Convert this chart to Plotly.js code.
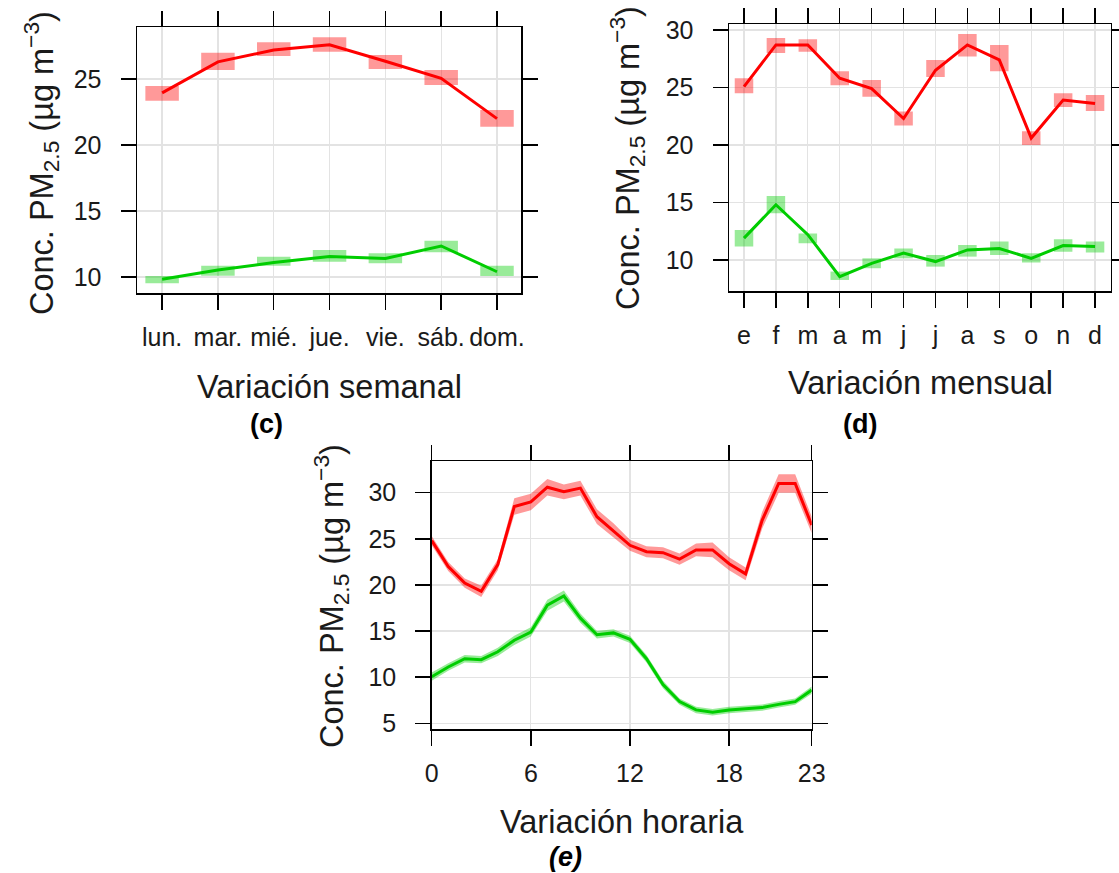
<!DOCTYPE html>
<html>
<head>
<meta charset="utf-8">
<script src="https://cdn.plot.ly/plotly-3.0.1.min.js"></script>
<style>html,body{margin:0;padding:0;background:#fff;}#chart{width:1119px;height:873px;}</style>
</head>
<body>
<div id="chart"></div>
<script>
// ---- Weekly variation (c)
const days = ['lun.', 'mar.', 'mié.', 'jue.', 'vie.', 'sáb.', 'dom.'];
const weekRed = [23.95, 26.3, 27.2, 27.6, 26.35, 25.05, 22.0];
const weekRedLow = [23.36, 25.68, 26.74, 27.07, 25.76, 24.55, 21.39];
const weekRedHigh = [24.47, 26.99, 27.78, 28.16, 26.82, 25.68, 22.65];
const weekGreen = [9.83, 10.53, 11.1, 11.55, 11.4, 12.35, 10.4];
const weekGreenLow = [9.52, 10.1, 10.86, 11.16, 11.04, 11.87, 10.08];
const weekGreenHigh = [10.08, 10.86, 11.54, 12.05, 11.8, 12.75, 10.86];

// ---- Monthly variation (d)
const months = ['e', 'f', 'm', 'a', 'm', 'j', 'j', 'a', 's', 'o', 'n', 'd'];
const monthRed = [25.07, 28.7, 28.7, 25.8, 24.9, 22.3, 26.5, 28.7, 27.4, 20.6, 23.9, 23.6];
const monthRedLow = [24.5, 28.0, 28.1, 25.2, 24.2, 21.7, 25.9, 27.7, 26.4, 20.0, 23.3, 22.95];
const monthRedHigh = [25.8, 29.3, 29.2, 26.4, 25.65, 22.9, 27.4, 29.65, 28.7, 21.2, 24.5, 24.35];
const monthGreen = [11.9, 14.8, 12.2, 8.55, 9.7, 10.6, 9.86, 10.87, 11.0, 10.14, 11.25, 11.16];
const monthGreenLow = [11.16, 14.06, 11.45, 8.26, 9.28, 10.14, 9.42, 10.29, 10.43, 9.77, 10.72, 10.64];
const monthGreenHigh = [12.6, 15.57, 12.3, 8.99, 10.14, 11.0, 10.43, 11.3, 11.6, 10.58, 11.8, 11.6];

// ---- Hourly variation (e)
const hours = [0, 1, 2, 3, 4, 5, 6, 7, 8, 9, 10, 11, 12, 13, 14, 15, 16, 17, 18, 19, 20, 21, 22, 23];
const hourTicks = [0, 6, 12, 18, 23];
const hourRed = [24.8, 22.0, 20.2, 19.3, 22.2, 28.5, 29.0, 30.6, 30.1, 30.5, 27.4, 25.9, 24.3, 23.6, 23.5, 22.8, 23.8, 23.8, 22.3, 21.2, 27.0, 31.0, 31.0, 26.5];
const hourRedLow = [24.3, 21.5, 19.7, 18.7, 21.6, 27.6, 28.1, 29.7, 29.3, 29.7, 26.6, 25.1, 23.7, 23.0, 22.9, 22.2, 23.1, 23.0, 21.6, 20.5, 26.1, 30.0, 30.0, 25.6];
const hourRedHigh = [25.3, 22.5, 20.7, 19.9, 22.8, 29.4, 29.9, 31.5, 30.9, 31.3, 28.2, 26.7, 24.9, 24.2, 24.1, 23.4, 24.5, 24.6, 23.0, 21.9, 27.9, 32.0, 32.0, 27.4];
const hourGreen = [10.05, 11.1, 12.0, 11.9, 12.75, 14.0, 14.9, 17.8, 18.8, 16.4, 14.6, 14.8, 14.1, 12.0, 9.2, 7.35, 6.45, 6.2, 6.45, 6.6, 6.7, 7.05, 7.35, 8.6];
const hourGreenLow = [9.6, 10.7, 11.6, 11.5, 12.3, 13.5, 14.4, 17.2, 18.2, 15.9, 14.2, 14.4, 13.7, 11.6, 8.8, 7.0, 6.1, 5.85, 6.1, 6.25, 6.35, 6.7, 7.0, 8.2];
const hourGreenHigh = [10.5, 11.5, 12.4, 12.3, 13.2, 14.5, 15.4, 18.4, 19.4, 16.9, 15.0, 15.2, 14.5, 12.4, 9.6, 7.7, 6.8, 6.55, 6.8, 6.95, 7.05, 7.4, 7.7, 9.0];

// ---- style
const RED = '#FF0000', GREEN = '#00CD00';
const RED_CI = 'rgba(255,0,0,0.4)', GREEN_CI = 'rgba(0,205,0,0.4)';
const FONT = 'Liberation Sans, Arial, sans-serif';
const W = 1119, H = 873;

const dayX = days.map((_, i) => i + 1);
const monthX = months.map((_, i) => i + 1);
const diff = (hi, lo) => hi.map((v, i) => v - lo[i]);

const data = [];
function ciBars(x, lo, hi, color, xa, ya, width) {
  data.push({type: 'bar', x: x, y: diff(hi, lo), base: lo, width: width,
    marker: {color: color, line: {width: 0}}, xaxis: xa, yaxis: ya, hoverinfo: 'skip', showlegend: false});
}
function band(x, lo, hi, color, xa, ya) {
  data.push({type: 'scatter', mode: 'lines', x: x, y: lo, line: {width: 0, color: color}, xaxis: xa, yaxis: ya, showlegend: false, hoverinfo: 'skip'});
  data.push({type: 'scatter', mode: 'lines', x: x, y: hi, fill: 'tonexty', fillcolor: color, line: {width: 0, color: color}, xaxis: xa, yaxis: ya, showlegend: false, hoverinfo: 'skip'});
}
function line(x, y, color, xa, ya) {
  data.push({type: 'scatter', mode: 'lines', x: x, y: y, line: {width: 3, color: color}, xaxis: xa, yaxis: ya, showlegend: false});
}

ciBars(dayX, weekRedLow, weekRedHigh, RED_CI, 'x', 'y', 0.6);
ciBars(dayX, weekGreenLow, weekGreenHigh, GREEN_CI, 'x', 'y', 0.6);
ciBars(monthX, monthRedLow, monthRedHigh, RED_CI, 'x2', 'y2', 0.58);
ciBars(monthX, monthGreenLow, monthGreenHigh, GREEN_CI, 'x2', 'y2', 0.58);
band(hours, hourRedLow, hourRedHigh, RED_CI, 'x3', 'y3');
band(hours, hourGreenLow, hourGreenHigh, GREEN_CI, 'x3', 'y3');
line(dayX, weekRed, RED, 'x', 'y');
line(dayX, weekGreen, GREEN, 'x', 'y');
line(monthX, monthRed, RED, 'x2', 'y2');
line(monthX, monthGreen, GREEN, 'x2', 'y2');
line(hours, hourRed, RED, 'x3', 'y3');
line(hours, hourGreen, GREEN, 'x3', 'y3');

const px = v => v / W;
const py = v => 1 - v / H;

function axis(extra) {
  return Object.assign({
    showline: true, linecolor: '#000', linewidth: 1.5, mirror: 'ticks',
    ticks: 'outside', ticklen: 15, tickwidth: 1.5, tickcolor: '#000',
    showgrid: true, gridcolor: '#e3e3e3', gridwidth: 1.3, zeroline: false,
    tickfont: {family: FONT, size: 25, color: '#1a1a1a'}, fixedrange: true
  }, extra);
}

const ytitle = 'Conc. PM<sub>2.5</sub> (µg m<sup>−3</sup>)';
const tfont = {family: FONT, size: 32.5, color: '#1a1a1a'};
const lfont = {family: FONT, size: 27, color: '#000'};
function note(text, x, y, font, angle) {
  return {text: text, x: px(x), y: py(y), xref: 'paper', yref: 'paper', xanchor: 'center', yanchor: 'middle',
    showarrow: false, font: font, textangle: angle || 0};
}

const layout = {
  width: W, height: H, margin: {l: 0, r: 0, t: 0, b: 0},
  paper_bgcolor: '#fff', plot_bgcolor: '#fff', barmode: 'overlay', showlegend: false,
  xaxis: axis({domain: [px(137), px(521)], range: [0.55, 7.43], tickvals: dayX, ticktext: days, anchor: 'y', ticklabelstandoff: 6}),
  yaxis: axis({domain: [py(293), py(27)], range: [8.79, 28.94], tickvals: [10, 15, 20, 25], anchor: 'x', ticklabelstandoff: 14}),
  xaxis2: axis({domain: [px(729), px(1110.7)], range: [0.53, 12.49], tickvals: monthX, ticktext: months, anchor: 'y2', ticklabelstandoff: 6}),
  yaxis2: axis({domain: [py(291), py(24)], range: [7.3, 30.52], tickvals: [10, 15, 20, 25, 30], anchor: 'x2', ticklabelstandoff: 14}),
  xaxis3: axis({domain: [px(431.7), px(811.7)], range: [0, 23], tickvals: hourTicks, anchor: 'y3', ticklabelstandoff: 6}),
  yaxis3: axis({domain: [py(729), py(461)], range: [4.38, 33.44], tickvals: [5, 10, 15, 20, 25, 30], anchor: 'x3', ticklabelstandoff: 14}),
  annotations: [
    note(ytitle, 41, 163, tfont, -90),
    note(ytitle, 627, 158, tfont, -90),
    note(ytitle, 331, 596, tfont, -90),
    note('Variación semanal', 329, 387, tfont),
    note('Variación mensual', 920, 383, tfont),
    note('Variación horaria', 622, 822, tfont),
    note('<b>(c)</b>', 266, 424, lfont),
    note('<b>(d)</b>', 860, 424, lfont),
    note('<b><i>(e)</i></b>', 565, 857, lfont)
  ]
};

Plotly.newPlot('chart', data, layout, {staticPlot: true, displayModeBar: false});
</script>
</body>
</html>
